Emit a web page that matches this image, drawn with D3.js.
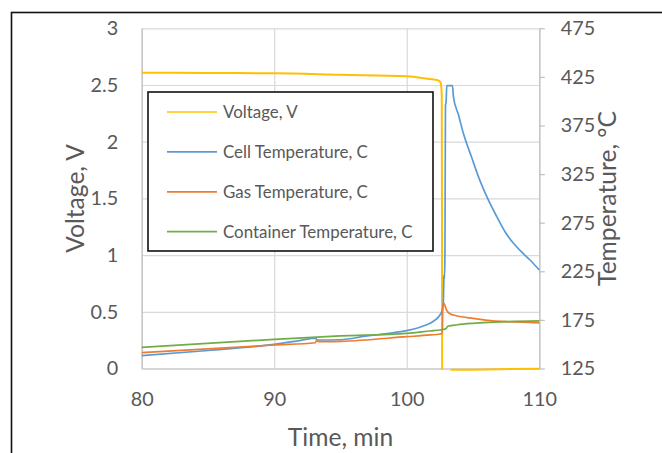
<!DOCTYPE html>
<html>
<head>
<meta charset="utf-8">
<script src="https://cdn.jsdelivr.net/npm/d3@7"></script>
<style>
  body { margin: 0; background: #fff; }
  text { font-family: Lato, "Open Sans", sans-serif; fill: #595959; }
</style>
</head>
<body>
<div id="chart"></div>
<script>
// chart data
var timeTicks = [80, 90, 100, 110];
var voltTicks = [0, 0.5, 1, 1.5, 2, 2.5, 3];
var tempTicks = [125, 175, 225, 275, 325, 375, 425, 475];

var voltageTime = [80, 85, 90, 95, 100, 101.76, 102.2, 102.45, 102.55, 102.6, 102.64, 102.66, 102.67, 102.9, 103.3, 105, 107, 110];
var voltageValues = [2.609, 2.606, 2.603, 2.59, 2.577, 2.552, 2.545, 2.535, 2.52, 2.49, 2.4, 1.0, -0.012, null, -0.012, -0.01, -0.006, -0.003];

var cellTime = [80, 85, 90, 92, 93.1, 93.25, 95, 97, 98.5, 100, 101, 101.76, 102.2, 102.5, 102.65, 102.75,
    102.79, 102.8, 102.82, 102.84, 102.88, 102.92, 102.97, 103.02, 103.45, 103.52, 103.9, 104.27, 104.9,
    105.5, 106.1, 106.8, 107.4, 108.05, 108.7, 109.3, 110];
var cellTemp = [138.2, 143.5, 149.9, 154, 156.2, 154.3, 154.6, 158.5, 161, 163.9, 167.5, 171.5, 175.5, 180, 184, 190,
    212, 221, 221, 217, 240, 395, 400, 416, 416, 404.6, 386, 367, 342,
    319, 300, 281, 266, 253.8, 244.5, 236.6, 226.3];

var gasTime = [80, 90, 93.1, 93.2, 93.35, 95, 100, 101.76, 102.5, 102.68, 102.72, 102.78, 102.85, 103.0, 103.3, 103.5, 104, 105, 106.3, 107.5, 110];
var gasTemp = [141.3, 149.2, 151.5, 154.2, 152.6, 153, 157.7, 159.5, 160.5, 161, 188, 192, 191, 185, 181, 180, 178.5, 176.6, 174.2, 173.2, 172];

var containerTime = [80, 90, 95, 100, 101.76, 102.5, 102.8, 102.95, 103.1, 103.8, 105, 106.3, 107.5, 110];
var containerTemp = [146.8, 155, 158.5, 161.2, 163.6, 164.6, 165.3, 166, 168.5, 170, 171.5, 172.5, 173.2, 173.9];

var seriesNames = ["Voltage, V", "Cell Temperature, C", "Gas Temperature, C", "Container Temperature, C"];
var seriesColors = ["#FFC000", "#5B9BD5", "#ED7D31", "#70AD47"];

// layout
var margin = { top: 28.3, right: 122.7, bottom: 84.5, left: 141.7 },
    width = 662 - margin.left - margin.right,
    height = 453 - margin.top - margin.bottom;

var root = d3.select("#chart")
    .append("svg")
    .attr("width", 662)
    .attr("height", 453);

// outer frame
root.append("rect")
    .attr("x", 11.5)
    .attr("y", 12.5)
    .attr("width", 700)
    .attr("height", 500)
    .style("fill", "none")
    .style("stroke", "#111")
    .style("stroke-width", 1.6);

var svg = root.append("g")
    .attr("transform", "translate(" + margin.left + "," + margin.top + ")");

var x = d3.scaleLinear().domain([80, 110]).range([0, width]);
var yV = d3.scaleLinear().domain([0, 3]).range([height, 0]);
var yT = d3.scaleLinear().domain([125, 475]).range([height, 0]);

// gridlines
svg.append("g")
    .attr("class", "grid")
    .call(d3.axisLeft(yV).tickValues(voltTicks).tickSize(-width).tickFormat(""))
    .call(g => g.select(".domain").remove());

svg.append("g")
    .attr("class", "grid")
    .attr("transform", "translate(0," + height + ")")
    .call(d3.axisBottom(x).tickValues(timeTicks).tickSize(-height).tickFormat(""))
    .call(g => g.select(".domain").remove());

svg.selectAll(".grid line").style("stroke", "#d9d9d9").style("stroke-width", 1.2);

// axes
svg.append("g")
    .attr("class", "xAxis")
    .attr("transform", "translate(0," + height + ")")
    .call(d3.axisBottom(x).tickValues(timeTicks).tickSize(0).tickPadding(23));

svg.append("g")
    .attr("class", "yAxisLeft")
    .call(d3.axisLeft(yV).tickValues(voltTicks).tickSize(0).tickPadding(23.5).tickFormat(d => String(d)));

svg.append("g")
    .attr("class", "yAxisRight")
    .attr("transform", "translate(" + width + ",0)")
    .call(d3.axisRight(yT).tickValues(tempTicks).tickSizeInner(5.5).tickSizeOuter(0).tickPadding(16));

svg.selectAll(".xAxis .domain, .yAxisLeft .domain, .yAxisRight .domain, .yAxisRight line")
    .style("stroke", "#bfbfbf")
    .style("stroke-width", 1.2);

svg.selectAll(".xAxis text, .yAxisLeft text, .yAxisRight text")
    .style("font-size", "19.8px")
    .style("font-family", "Lato")
    .style("fill", "#595959");

// lines
function drawSeries(times, values, yScale, color, w) {
    var pts = times.map((t, i) => ({ t: t, v: values[i] }));
    var line = d3.line()
        .defined(d => d.v !== null)
        .curve(d3.curveMonotoneX)
        .x(d => x(d.t))
        .y(d => yScale(d.v));
    svg.append("path")
        .datum(pts)
        .attr("d", line)
        .style("fill", "none")
        .style("stroke", color)
        .style("stroke-width", w)
        .style("stroke-linejoin", "round");
}

drawSeries(voltageTime, voltageValues, yV, seriesColors[0], 2);
drawSeries(cellTime, cellTemp, yT, seriesColors[1], 1.7);
drawSeries(gasTime, gasTemp, yT, seriesColors[2], 1.7);
drawSeries(containerTime, containerTemp, yT, seriesColors[3], 1.7);

// axis titles
root.append("text")
    .attr("x", margin.left + width / 2)
    .attr("y", 446)
    .style("text-anchor", "middle")
    .style("font-size", "24.6px")
    .text("Time, min");

root.append("text")
    .attr("transform", "translate(84," + (margin.top + height / 2) + ") rotate(-90)")
    .style("text-anchor", "middle")
    .style("font-size", "24.6px")
    .text("Voltage, V");

root.append("text")
    .attr("transform", "translate(616,198.5) rotate(-90)")
    .style("text-anchor", "middle")
    .style("font-size", "24.6px")
    .text("Temperature, °C");

// legend
var legend = root.append("g")
    .attr("class", "legend")
    .attr("transform", "translate(148,92)");

legend.append("rect")
    .attr("width", 285)
    .attr("height", 159)
    .style("fill", "#fff")
    .style("stroke", "#111")
    .style("stroke-width", 1.6);

var items = legend.selectAll("g.item")
    .data(seriesNames)
    .enter()
    .append("g")
    .attr("class", "item")
    .attr("transform", (d, i) => "translate(0," + (20 + i * 39.9) + ")");

items.append("line")
    .attr("x1", 19)
    .attr("x2", 69)
    .style("stroke", (d, i) => seriesColors[i])
    .style("stroke-width", 1.7);

items.append("text")
    .attr("x", 75)
    .attr("dy", "0.35em")
    .style("font-size", "16.9px")
    .text(d => d);
</script>
</body>
</html>
